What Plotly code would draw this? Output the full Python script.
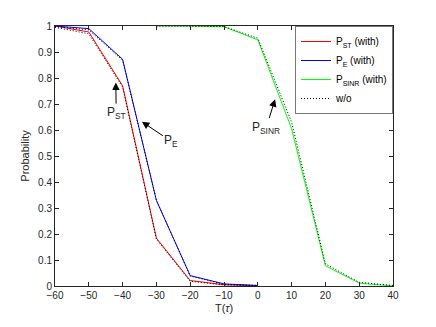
import plotly.graph_objects as go

# threshold values (x axis)
t_low = [-60, -50, -40, -30, -20, -10, 0]
t_sinr = [-30, -20, -10, 0, 10, 20, 30, 40]

# probabilities
p_st_with = [1.0, 0.977, 0.77, 0.184, 0.021, 0.005, 0.001]
p_e_with = [1.0, 0.99, 0.872, 0.329, 0.040, 0.008, 0.002]
p_sinr_with = [1.0, 1.0, 0.997, 0.947, 0.605, 0.078, 0.011, 0.0]

p_st_wo = [0.995, 0.97, 0.765, 0.18, 0.018, 0.004, 0.001]
p_e_wo = [0.998, 0.985, 0.868, 0.33, 0.038, 0.007, 0.002]
p_sinr_wo = [1.0, 1.0, 0.998, 0.953, 0.63, 0.085, 0.014, 0.002]

x_ticks = list(range(-60, 41, 10))
y_ticks = [i / 10 for i in range(11)]
y_tick_text = ["0"] + [f"{v:.1f}" for v in y_ticks[1:-1]] + ["1"]

FONT = "Liberation Sans, Arial, sans-serif"
AXIS_COL = "#262626"

fig = go.Figure()

fig.add_trace(go.Scatter(x=t_low, y=p_st_with, mode="lines", name="P<sub>ST</sub> (with)",
                         line=dict(color="#ff0000", width=1)))
fig.add_trace(go.Scatter(x=t_low, y=p_e_with, mode="lines", name="P<sub>E</sub> (with)",
                         line=dict(color="#0000ff", width=1)))
fig.add_trace(go.Scatter(x=t_sinr, y=p_sinr_with, mode="lines", name="P<sub>SINR</sub> (with)",
                         line=dict(color="#00ff00", width=1)))

# without -> dotted black, one legend entry
wo_line = dict(color="black", width=1, dash="1px,2px")
fig.add_trace(go.Scatter(x=t_low, y=p_st_wo, mode="lines", name="w/o", line=wo_line,
                         legendgroup="wo"))
fig.add_trace(go.Scatter(x=t_low, y=p_e_wo, mode="lines", name="w/o", line=wo_line,
                         legendgroup="wo", showlegend=False))
fig.add_trace(go.Scatter(x=t_sinr, y=p_sinr_wo, mode="lines", name="w/o", line=wo_line,
                         legendgroup="wo", showlegend=False))

# arrow labels (tip on curve, text at tail)
labels = [
    ("P<sub>ST</sub>", -42.0, 0.783, -41.9, 0.665),
    ("P<sub>E</sub>", -34.3, 0.632, -25.6, 0.556),
    ("P<sub>SINR</sub>", 5.1, 0.718, 2.5, 0.609),
]
for txt, x, y, ax, ay in labels:
    fig.add_annotation(x=x, y=y, ax=ax, ay=ay, xref="x", yref="y", axref="x", ayref="y",
                       text=txt, showarrow=True, arrowhead=2, arrowsize=1.5, arrowwidth=1,
                       arrowcolor="black", font=dict(family=FONT, size=12, color=AXIS_COL))

axis_common = dict(
    showline=True, linecolor=AXIS_COL, linewidth=1, mirror="ticks",
    ticks="inside", ticklen=4, tickcolor=AXIS_COL, showgrid=False, zeroline=False,
    tickfont=dict(family=FONT, size=10, color=AXIS_COL),
)

fig.update_xaxes(range=[-60, 40], tickvals=x_ticks,
                 title=dict(text="T(<i>τ</i>)", font=dict(family=FONT, size=11, color=AXIS_COL),
                            standoff=4),
                 **axis_common)
fig.update_yaxes(range=[0, 1], tickvals=y_ticks, ticktext=y_tick_text,
                 title=dict(text="Probability", font=dict(family=FONT, size=11, color=AXIS_COL),
                            standoff=6),
                 **axis_common)

# page body has an 8px margin, so the figure is shrunk to fit the window
fig.update_layout(
    width=428, height=319,
    margin=dict(l=47, r=43, t=12, b=41),
    plot_bgcolor="white", paper_bgcolor="white",
    font=dict(family=FONT, color=AXIS_COL),
    legend=dict(x=1, y=1, xanchor="right", yanchor="top", bgcolor="white",
                bordercolor="#777777", borderwidth=1, itemwidth=30,
                font=dict(family=FONT, size=10, color="black"),
                tracegroupgap=0),
    showlegend=True,
)

fig.write_html("out.html")
